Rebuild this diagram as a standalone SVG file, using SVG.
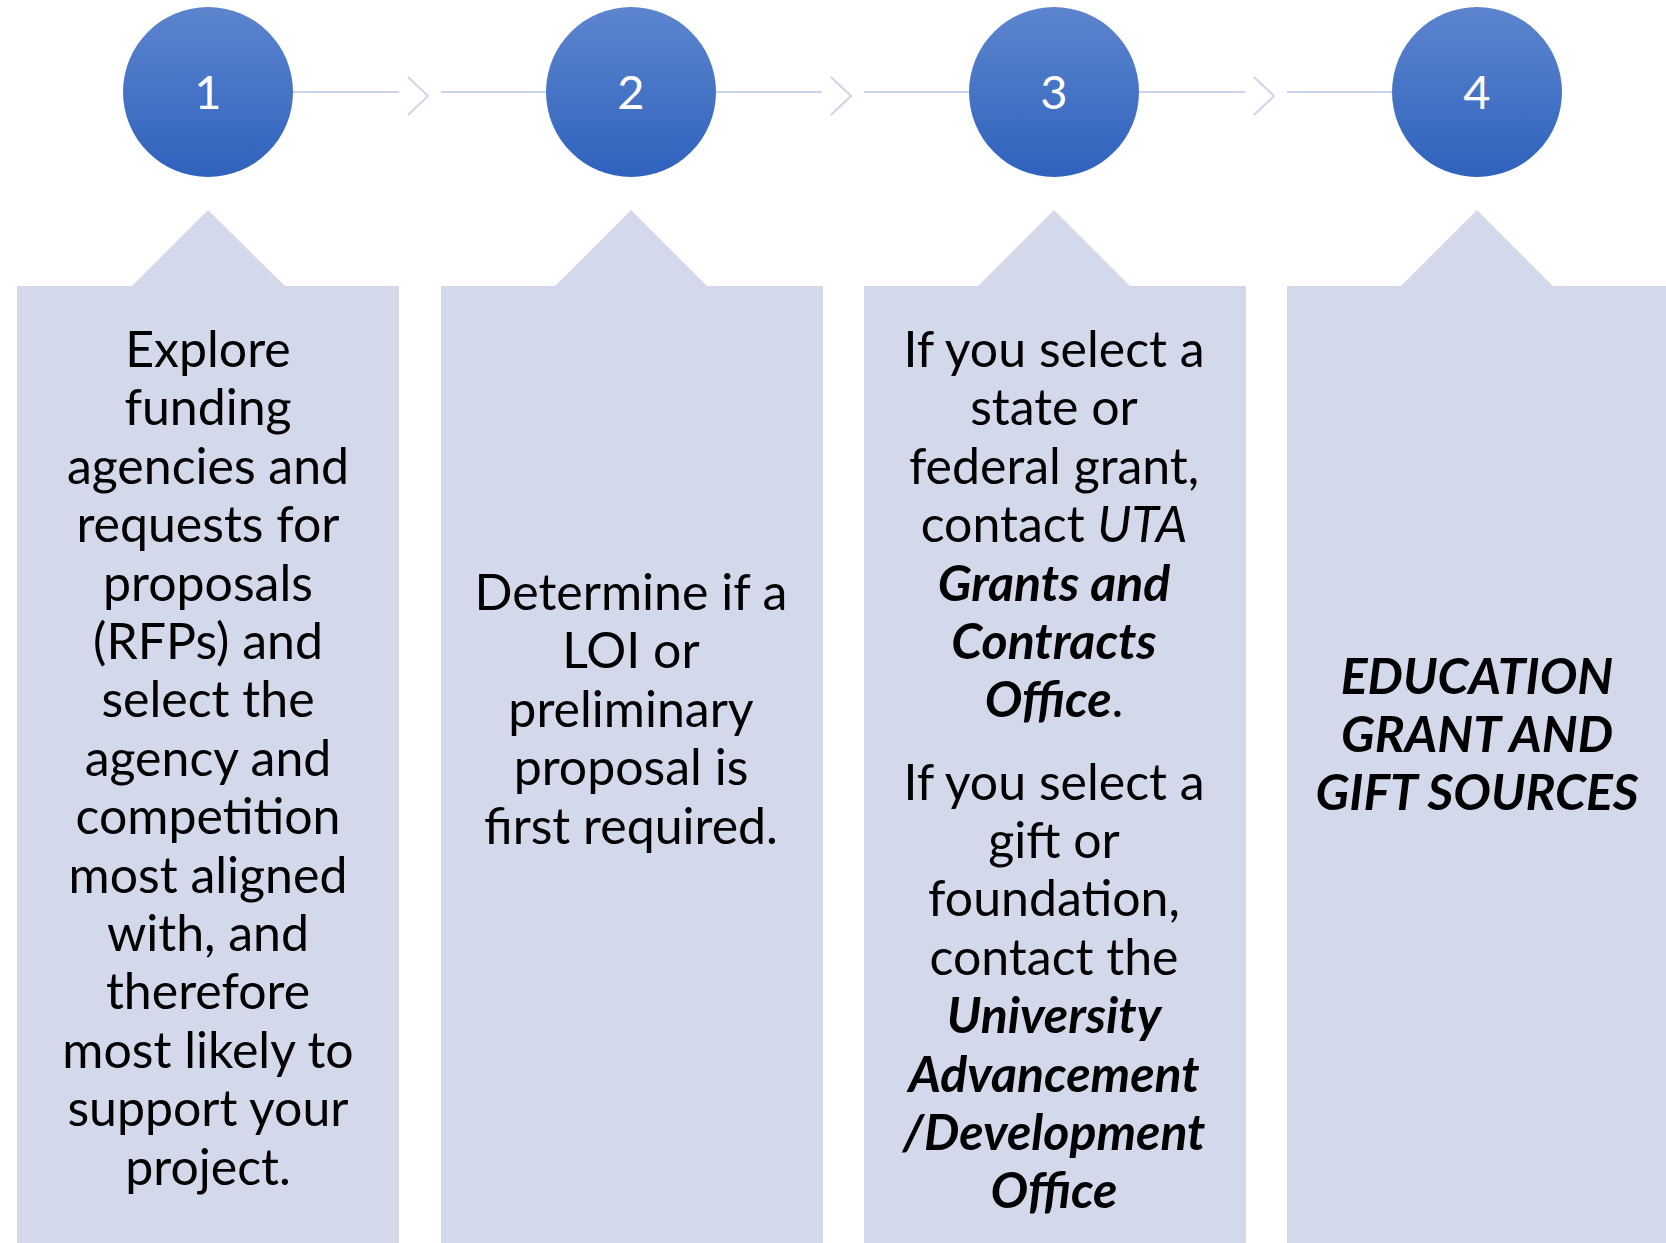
<svg xmlns="http://www.w3.org/2000/svg" width="1666" height="1243" viewBox="0 0 1666 1243">
<defs>
<linearGradient id="cg" x1="0" y1="0" x2="0" y2="1">
<stop offset="0" stop-color="#5D85CE"/>
<stop offset="1" stop-color="#2F62BD"/>
</linearGradient>
<style>
.box{fill:#D3D9EB}
.circ{fill:url(#cg)}
.num{font-family:Lato,"Liberation Sans",sans-serif;font-size:47px;fill:#FFFFFF;text-anchor:middle}
.t{font-family:Lato,"Liberation Sans",sans-serif;font-size:50px;fill:#000000;text-anchor:middle}
.bi{font-weight:bold;font-style:italic}
.i{font-style:italic}
.con{fill:none;stroke:#CDD4EA;stroke-width:2}
</style>
</defs>
<g id="connectors">
<line class="con" x1="293" y1="92" x2="399" y2="92"/>
<polyline class="con" points="408,77 428,96 408,115"/>
<line class="con" x1="441" y1="92" x2="546" y2="92"/>
<line class="con" x1="716" y1="92" x2="822" y2="92"/>
<polyline class="con" points="831,77 851,96 831,115"/>
<line class="con" x1="864" y1="92" x2="969" y2="92"/>
<line class="con" x1="1139" y1="92" x2="1245" y2="92"/>
<polyline class="con" points="1254,77 1274,96 1254,115"/>
<line class="con" x1="1287" y1="92" x2="1392" y2="92"/>
</g>
<g id="step1">
<circle class="circ" cx="208" cy="92" r="85"/>
<text class="num" x="208" y="109">1</text>
</g>
<g id="step2">
<circle class="circ" cx="631" cy="92" r="85"/>
<text class="num" x="631" y="109">2</text>
</g>
<g id="step3">
<circle class="circ" cx="1054" cy="92" r="85"/>
<text class="num" x="1054" y="109">3</text>
</g>
<g id="step4">
<circle class="circ" cx="1477" cy="92" r="85"/>
<text class="num" x="1477" y="109">4</text>
</g>
<g id="box1">
<path class="box" d="M17,286 H132 L208,210 L285,286 H399 V1243 H17 Z"/>
<text class="t" x="208" y="367">Explore</text>
<text class="t" x="208" y="425.4">funding</text>
<text class="t" x="208" y="483.8">agencies and</text>
<text class="t" x="208" y="542.2">requests for</text>
<text class="t" x="208" y="600.6">proposals</text>
<text class="t" x="208" y="659">(RFPs) and</text>
<text class="t" x="208" y="717.4">select the</text>
<text class="t" x="208" y="775.8">agency and</text>
<text class="t" x="208" y="834.2">competition</text>
<text class="t" x="208" y="892.6">most aligned</text>
<text class="t" x="208" y="951">with, and</text>
<text class="t" x="208" y="1009.4">therefore</text>
<text class="t" x="208" y="1067.8">most likely to</text>
<text class="t" x="208" y="1126.2">support your</text>
<text class="t" x="208" y="1184.6">project.</text>
</g>
<g id="box2">
<path class="box" d="M441,286 H555 L631,210 L707,286 H823 V1243 H441 Z"/>
<text class="t" x="631" y="610">Determine if a</text>
<text class="t" x="631" y="668.4">LOI or</text>
<text class="t" x="631" y="726.8">preliminary</text>
<text class="t" x="631" y="785.2">proposal is</text>
<text class="t" x="631" y="843.6">first required.</text>
</g>
<g id="box3">
<path class="box" d="M864,286 H978 L1054,210 L1130,286 H1246 V1243 H864 Z"/>
<text class="t" x="1054" y="367">If you select a</text>
<text class="t" x="1054" y="425.4">state or</text>
<text class="t" x="1054" y="483.8">federal grant,</text>
<text class="t" x="1054" y="542.2">contact <tspan class="i">UTA</tspan></text>
<text class="t bi" x="1054" y="600.6">Grants and</text>
<text class="t bi" x="1054" y="659">Contracts</text>
<text class="t" x="1054" y="717.4"><tspan class="bi">Office</tspan>.</text>
<text class="t" x="1054" y="799.5">If you select a</text>
<text class="t" x="1054" y="857.9">gift or</text>
<text class="t" x="1054" y="916.3">foundation,</text>
<text class="t" x="1054" y="974.7">contact the</text>
<text class="t bi" x="1054" y="1033.1">University</text>
<text class="t bi" x="1054" y="1091.5">Advancement</text>
<text class="t bi" x="1054" y="1149.9">/Development</text>
<text class="t bi" x="1054" y="1208.3">Office</text>
</g>
<g id="box4">
<path class="box" d="M1287,286 H1401 L1477,210 L1553,286 H1669 V1243 H1287 Z"/>
<text class="t bi" x="1477" y="694">EDUCATION</text>
<text class="t bi" x="1477" y="752">GRANT AND</text>
<text class="t bi" x="1477" y="810">GIFT SOURCES</text>
</g>
</svg>
